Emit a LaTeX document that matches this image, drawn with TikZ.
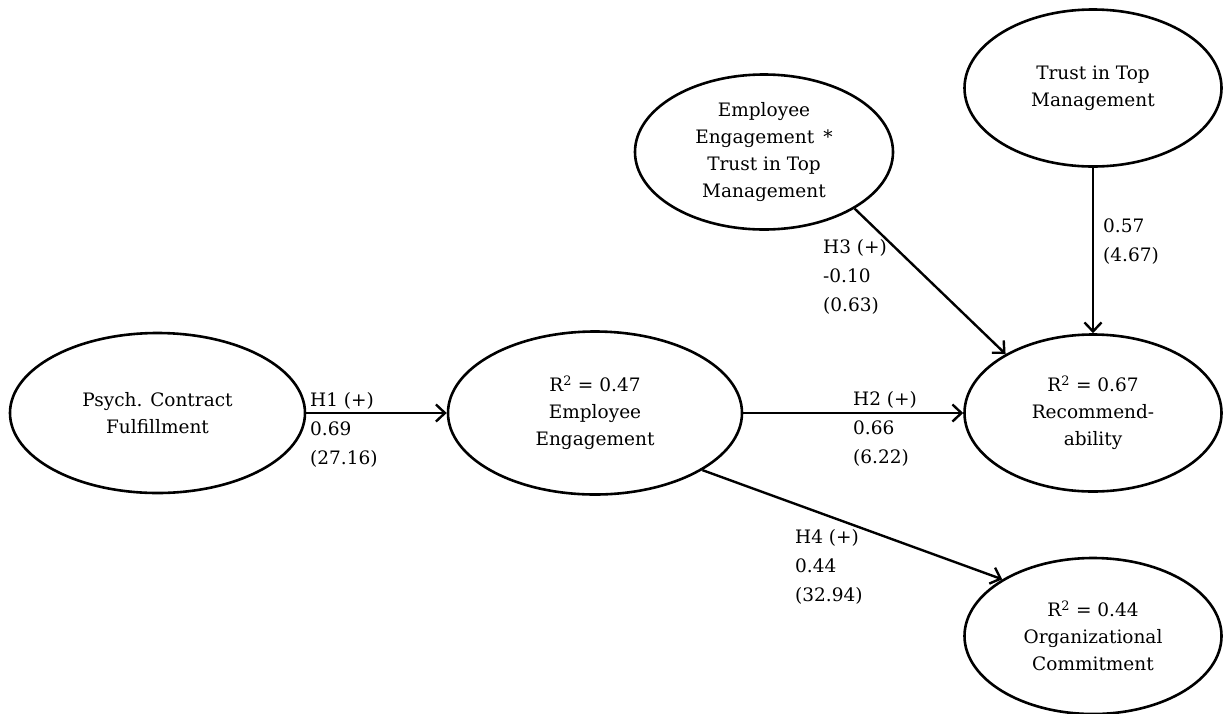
\documentclass[tikz,border=0pt]{standalone}
\usepackage{fontspec}
\setmainfont{DejaVu Serif}
\usetikzlibrary{shapes.geometric,arrows.meta}
\begin{document}
\begin{tikzpicture}[x=1pt,y=-1pt,
  lv/.style={draw, ellipse, line width=2.6pt, inner sep=0pt, align=center, font=\fontsize{18.5}{27}\selectfont},
  link/.style={line width=2.4pt, -{Straight Barb[length=9pt,width=17pt,line width=2.4pt]}},
  lbl/.style={align=left, anchor=west, inner sep=0pt, font=\fontsize{18.5}{29}\selectfont}]
\useasboundingbox (0,0) rectangle (1223,713);
\fill[white] (0,0) rectangle (1223,713);
\node[lv, minimum width=295pt, minimum height=160pt] (pcf) at (157.5,413) {Psych. Contract\\Fulfillment};
\node[lv, minimum width=294pt, minimum height=163pt] (ee) at (595,413) {R\textsuperscript{2} = 0.47\\Employee\\Engagement};
\node[lv, minimum width=257pt, minimum height=157pt] (rec) at (1093,413) {R\textsuperscript{2} = 0.67\\Recommend-\\ability};
\node[lv, minimum width=257pt, minimum height=156pt] (oc) at (1093,636) {R\textsuperscript{2} = 0.44\\Organizational\\Commitment};
\node[lv, minimum width=258pt, minimum height=155pt] (int) at (764,152) {Employee\\Engagement\enspace*\\Trust in Top\\Management};
\node[lv, minimum width=257pt, minimum height=157pt] (tr) at (1093,88) {Trust in Top\\Management};
\draw[link] (pcf.east) -- (ee.west);
\draw[link] (ee.east) -- (rec.west);
\draw[link] (int.-32) -- (rec.146);
\draw[link] (ee.-28.5) -- (oc.148);
\draw[link] (tr.south) -- (rec.north);
\node[lbl] (l1) at (310,430) {H1 (+)\\0.69\\(27.16)};
\node[lbl] (l2) at (853,429) {H2 (+)\\0.66\\(6.22)};
\node[lbl] (l3) at (823,277) {H3 (+)\\-0.10\\(0.63)};
\node[lbl] (l4) at (795,567) {H4 (+)\\0.44\\(32.94)};
\node[lbl] (l5) at (1103,242) {0.57\\(4.67)};
\end{tikzpicture}
\end{document}
